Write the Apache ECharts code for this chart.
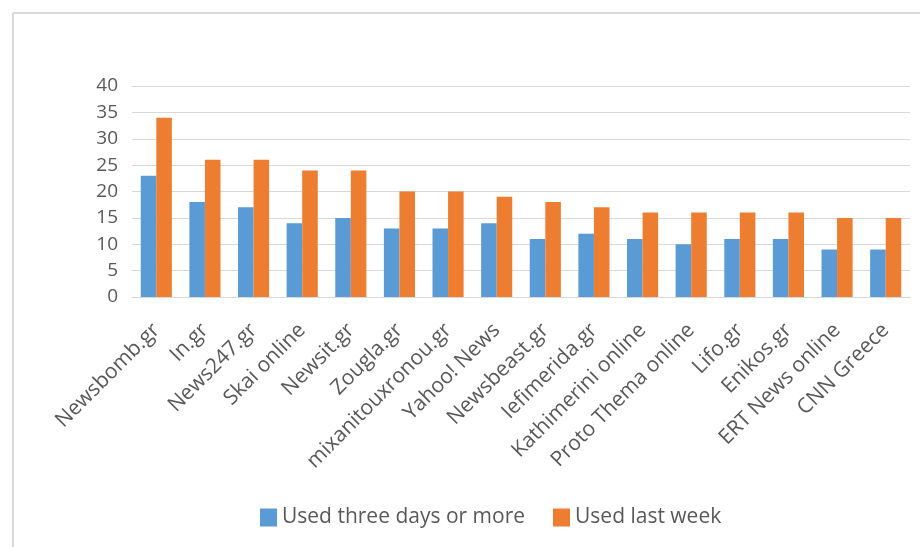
<!DOCTYPE html>
<html>
<head>
<meta charset="utf-8">
<script src="https://cdn.jsdelivr.net/npm/echarts@6/dist/echarts.min.js"></script>
<style>
  html, body { margin: 0; padding: 0; background: #fff; }
  #chart { width: 920px; height: 547px; }
</style>
</head>
<body>
<div id="chart"></div>
<script>
// news sites
var sites = ['Newsbomb.gr', 'In.gr', 'News247.gr', 'Skai online', 'Newsit.gr', 'Zougla.gr',
  'mixanitouxronou.gr', 'Yahoo! News', 'Newsbeast.gr', 'Iefimerida.gr', 'Kathimerini online',
  'Proto Thema online', 'Lifo.gr', 'Enikos.gr', 'ERT News online', 'CNN Greece'];
var threeDays = [23, 18, 17, 14, 15, 13, 13, 14, 11, 12, 11, 10, 11, 11, 9, 9];
var lastWeek = [34, 26, 26, 24, 24, 20, 20, 19, 18, 17, 16, 16, 16, 16, 15, 15];
var seriesNames = ['Used three days or more', 'Used last week'];

var font = '"Open Sans", "Liberation Sans", sans-serif';
var chart = echarts.init(document.getElementById('chart'), null, { renderer: 'canvas' });

chart.setOption({
  backgroundColor: '#fff',
  animation: false,
  color: ['#5b9bd5', '#ed7d31'],
  textStyle: { fontFamily: font },
  // frame around the chart area, like the excel screenshot
  graphic: [
    { type: 'line', shape: { x1: 13, y1: 13, x2: 920, y2: 13 }, style: { stroke: '#d9d9d9', lineWidth: 2 } },
    { type: 'line', shape: { x1: 13, y1: 13, x2: 13, y2: 547 }, style: { stroke: '#d9d9d9', lineWidth: 2 } }
  ],
  grid: {
    left: 132,
    right: 10,
    top: 86,
    bottom: 250
  },
  legend: {
    bottom: 14,
    left: 255,
    itemWidth: 17,
    itemHeight: 18,
    itemGap: 28,
    icon: 'rect',
    textStyle: { fontSize: 21, color: '#595959', fontFamily: font },
    data: seriesNames
  },
  xAxis: {
    type: 'category',
    data: sites,
    axisLine: { lineStyle: { color: '#d9d9d9' } },
    axisTick: { show: false },
    axisLabel: {
      interval: 0,
      rotate: 45,
      margin: 30,
      fontSize: 21,
      color: '#595959'
    }
  },
  yAxis: {
    type: 'value',
    min: 0,
    max: 40,
    interval: 5,
    axisLine: { show: false },
    axisTick: { show: false },
    splitLine: { lineStyle: { color: '#d9d9d9', width: 1 } },
    axisLabel: { fontSize: 19, color: '#595959', margin: 14 }
  },
  series: [
    {
      name: seriesNames[0],
      type: 'bar',
      data: threeDays,
      barGap: '0%',
      barCategoryGap: '36%'
    },
    {
      name: seriesNames[1],
      type: 'bar',
      data: lastWeek,
      barGap: '0%',
      barCategoryGap: '36%'
    }
  ]
});
</script>
</body>
</html>
